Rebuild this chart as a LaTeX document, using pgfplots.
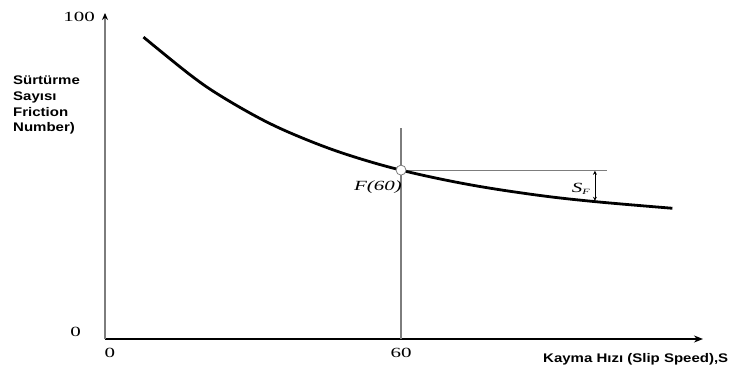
\documentclass[border=0pt]{standalone}
\usepackage{fontspec}
\setmainfont{Liberation Serif}
\newfontfamily\labfont{Liberation Sans}[FakeStretch=1.2]
\newfontfamily\tickfont{Liberation Serif}[FakeStretch=1.5]
\usepackage{pgfplots}
\pgfplotsset{compat=1.18}
\usetikzlibrary{arrows.meta}
\definecolor{axgray}{RGB}{125,125,125}

\newcommand\tickfnt{\tickfont\fontsize{14}{16}\selectfont}
\newcommand\labfnt{\labfont\bfseries\fontsize{12.5}{15.7}\selectfont}

\begin{document}
\begin{tikzpicture}[x=1pt,y=1pt]
\begin{axis}[
  at={(105pt,42pt)}, anchor=origin,
  scale only axis, width=598pt, height=326pt,
  xmin=0, xmax=121.2, ymin=0, ymax=100,
  enlargelimits=false, clip=false,
  axis lines=left,
  x axis line style={black, line width=1.6pt, -{Stealth[length=9pt,width=7pt]}},
  y axis line style={axgray, line width=1.5pt, -{Stealth[length=7pt,width=6pt,color=black]}},
  xtick={0,60}, ytick={0,100}, major tick length=0pt,
  xticklabels={{\hspace*{10pt}0}, 60},
  xticklabel style={font=\tickfnt, anchor=north, inner sep=0pt, yshift=-9pt},
  yticklabels={{\raisebox{2.3pt}{0}\hspace*{14pt}}, {\raisebox{-8.4pt}{100}}},
  yticklabel style={font=\tickfnt, anchor=base east, inner sep=0pt, xshift=-10pt},
  ylabel={Sürtürme\\Sayısı\\Friction\\Number)},
  every axis y label/.style={at={(axis description cs:-0.1538,0.807)}, anchor=north west, align=left, inner sep=0pt, font=\labfnt},
  xlabel={Kayma Hızı (Slip Speed),S},
  every axis x label/.style={at={(axis description cs:0.7324,-0.0736)}, anchor=base west, inner sep=0pt, font=\labfnt},
]
% reference lines at v = 60
\addplot[axgray, line width=1.9pt] coordinates {(60,0) (60,64.7)};
\addplot[axgray, line width=0.9pt] coordinates {(60,51.8) (101.7,51.8)};
% friction number curve
\addplot[black, line width=2.8pt, smooth, tension=0.6] coordinates {
  (7.8,92.6) (17.2,81.1) (23.3,74.7) (32.1,67.1) (40.1,61.6) (49.0,56.6)
  (60,51.8) (73.3,47.5) (86.8,44.3) (98.9,42.2) (115.0,40.1)
};
% S_F gap arrow
\addplot[black, line width=0.8pt, {Stealth[length=4pt,width=4pt]}-{Stealth[length=4pt,width=4pt]}]
  coordinates {(99.3,51.6) (99.3,42.4)};
% F(60) point
\addplot[only marks, mark=*, mark size=5pt, mark options={fill=white, draw=axgray, line width=0.8pt}]
  coordinates {(60,51.8)};
\node[anchor=base east, inner sep=0pt, font=\tickfnt\itshape] at (axis cs:60.2,45.4) {F(60)};
\node[anchor=base east, inner sep=0pt, font=\tickfnt\itshape] at (axis cs:98.3,44.8) {S\raisebox{-2pt}{\fontsize{8}{8}\selectfont F}};
\end{axis}
\pgfresetboundingbox
\path (0,0) rectangle (732,381);
\end{tikzpicture}
\end{document}
